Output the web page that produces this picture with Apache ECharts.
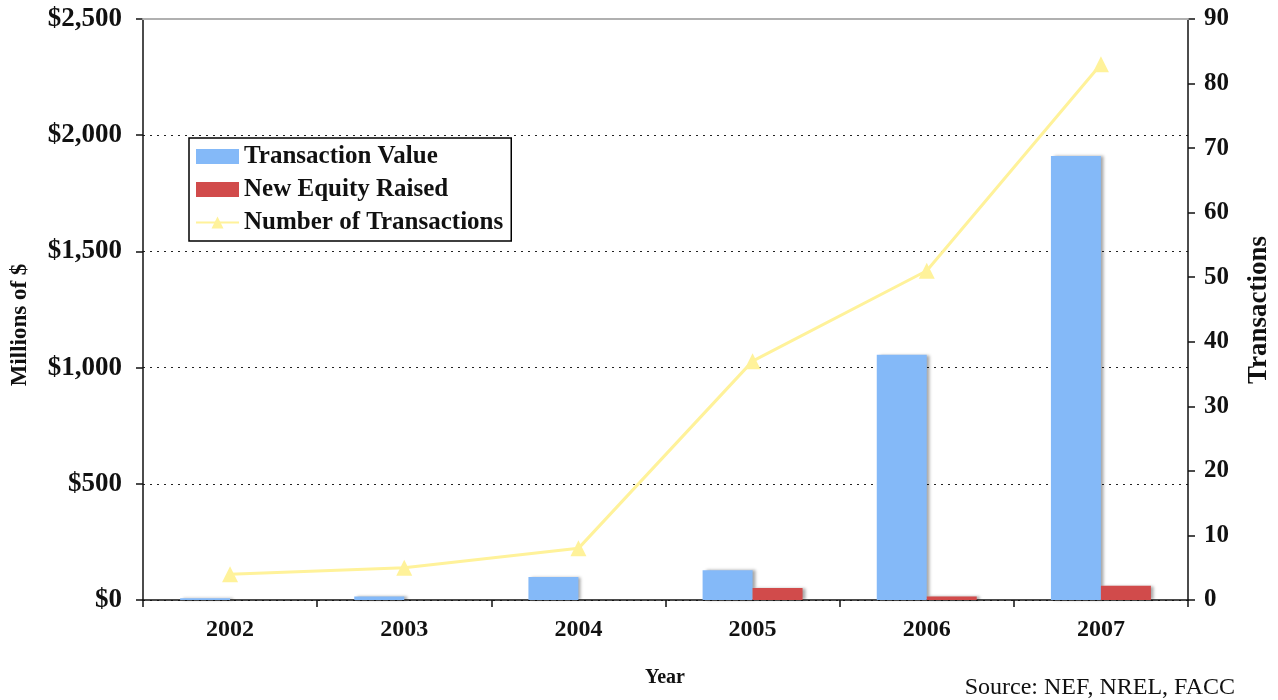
<!DOCTYPE html>
<html><head><meta charset="utf-8">
<script src="https://cdn.jsdelivr.net/npm/echarts@6/dist/echarts.min.js"></script>
<style>html,body{margin:0;padding:0;background:#fff}#c{width:1278px;height:700px}</style>
</head><body><div id="c"></div>
<script>
const years = ['2002','2003','2004','2005','2006','2007'];
const transactionValue = [7, 15, 99, 128, 1055, 1910];
const newEquityRaised = [0, 0, 0, 52, 15, 61];
const numberOfTransactions = [4, 5, 8, 37, 51, 83];
const leftTicks = {min: 0, max: 2500, interval: 500};
const rightTicks = {min: 0, max: 90, interval: 10};

const F = 'Liberation Serif';
const chart = echarts.init(document.getElementById('c'));
const barShadow = {shadowColor: 'rgba(0,0,0,0.35)', shadowOffsetX: 3, shadowOffsetY: 0, shadowBlur: 3};
chart.setOption({
  animation: false,
  backgroundColor: '#fff',
  grid: {left: 143, right: 90, top: 19, bottom: 100},
  legend: {
    orient: 'vertical', left: 189, top: 138,
    data: [
      {name: 'Transaction Value', icon: 'rect'},
      {name: 'New Equity Raised', icon: 'rect'},
      {name: 'Number of Transactions'}
    ],
    borderColor: '#000', borderWidth: 1.5, padding: [6, 8, 6, 6],
    itemWidth: 43, itemHeight: 15, itemGap: 8,
    textStyle: {fontFamily: F, fontWeight: 'bold', fontSize: 25, color: '#111', lineHeight: 24}
  },
  xAxis: [{
    type: 'category', data: years, position: 'bottom',
    axisLine: {lineStyle: {color: '#111', width: 1.5}},
    axisTick: {show: true, length: 7, lineStyle: {color: '#111', width: 1.5}},
    axisLabel: {fontFamily: F, fontWeight: 'bold', fontSize: 24, color: '#111', margin: 18}
  }, {
    type: 'category', data: years, position: 'top', z: 10,
    axisLine: {onZero: false, lineStyle: {color: '#b0b0b0', width: 2}},
    axisTick: {show: false}, axisLabel: {show: false}
  }],
  yAxis: [{
    type: 'value', position: 'left', min: leftTicks.min, max: leftTicks.max, interval: leftTicks.interval,
    axisLine: {show: true, lineStyle: {color: '#111', width: 1.5}},
    axisTick: {show: true, length: 7, lineStyle: {color: '#111', width: 1.5}},
    axisLabel: {fontFamily: F, fontWeight: 'bold', fontSize: 27, color: '#111', margin: 21,
      formatter: v => '$' + v.toLocaleString('en-US')},
    splitLine: {show: true, lineStyle: {color: '#222', type: [2, 5], width: 1}}
  }, {
    type: 'value', position: 'right', min: rightTicks.min, max: rightTicks.max, interval: rightTicks.interval,
    axisLine: {show: true, lineStyle: {color: '#111', width: 1.5}},
    axisTick: {show: true, length: 7, lineStyle: {color: '#111', width: 1.5}},
    axisLabel: {fontFamily: F, fontWeight: 'bold', fontSize: 25, color: '#111', margin: 16},
    splitLine: {show: false}
  }],
  series: [{
    name: 'Transaction Value', type: 'bar', data: transactionValue, xAxisIndex: 0, yAxisIndex: 0,
    barGap: '0%', barCategoryGap: '42.6%',
    itemStyle: Object.assign({color: '#84b9f8'}, barShadow)
  }, {
    name: 'New Equity Raised', type: 'bar', data: newEquityRaised, xAxisIndex: 0, yAxisIndex: 0,
    barGap: '0%', barCategoryGap: '42.6%',
    itemStyle: Object.assign({color: '#d14b4b'}, barShadow)
  }, {
    name: 'Number of Transactions', type: 'line', data: numberOfTransactions, xAxisIndex: 0, yAxisIndex: 1,
    symbol: 'triangle', symbolSize: 16, z: 5,
    lineStyle: {color: '#fff29a', width: 3},
    itemStyle: {color: '#fff29a'}
  }],
  graphic: [
    {type: 'text', x: 20, y: 325, rotation: Math.PI / 2,
     style: {text: 'Millions of $', font: 'bold 23px "Liberation Serif"', fill: '#111', align: 'center', verticalAlign: 'middle'}},
    {type: 'text', x: 1259, y: 310, rotation: Math.PI / 2,
     style: {text: 'Transactions', font: 'bold 27px "Liberation Serif"', fill: '#111', align: 'center', verticalAlign: 'middle'}},
    {type: 'text', x: 665, y: 678,
     style: {text: 'Year', font: 'bold 20px "Liberation Serif"', fill: '#111', align: 'center', verticalAlign: 'middle'}},
    {type: 'text', x: 1235, y: 688,
     style: {text: 'Source: NEF, NREL, FACC', font: '24px "Liberation Serif"', fill: '#111', align: 'right', verticalAlign: 'middle'}}
  ]
});
</script></body></html>
